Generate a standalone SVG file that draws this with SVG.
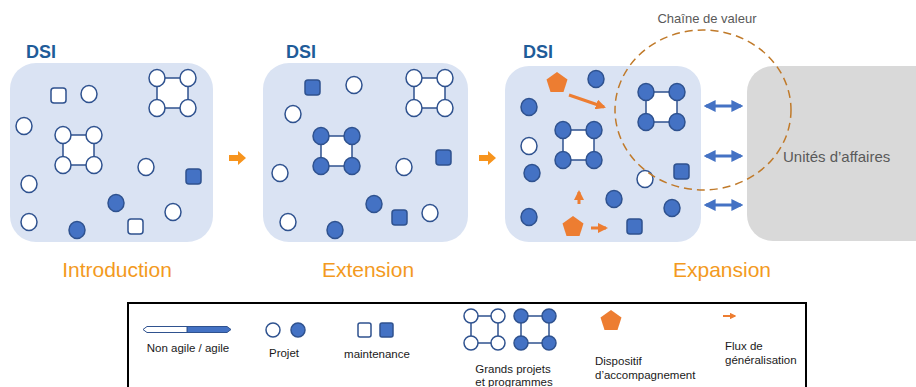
<svg xmlns="http://www.w3.org/2000/svg" xmlns:xlink="http://www.w3.org/1999/xlink" width="916" height="387" viewBox="0 0 916 387">
<style>
.panel{fill:#DAE3F3}
.ext{fill:#D9D9D9}
.o{fill:#FFFFFF;stroke:#2F528F;stroke-width:1.5}
.f{fill:#4472C4;stroke:#2F528F;stroke-width:1.5}
.ln{stroke:#2F528F;stroke-width:1.5}
.dsi{font-family:"Liberation Sans",Arial,sans-serif;font-weight:bold;font-size:18px;fill:#1F5C99}
.phase{font-family:"Liberation Sans",Arial,sans-serif;font-size:21px;fill:#F39A1E;text-anchor:middle}
.lg{font-family:"Liberation Sans",Arial,sans-serif;font-size:11.5px;fill:#1A1A1A}
.pent{fill:#ED7D31}
.step{fill:#F7941D}
.flux{stroke:#ED7D31;stroke-width:3;fill:none}
.dbl{stroke:#4472C4;stroke-width:3;fill:none}
</style>
<defs>
<marker id="ah-or" viewBox="0 0 10 10" refX="8" refY="5" markerWidth="3.4" markerHeight="3.4" orient="auto" markerUnits="strokeWidth">
<path d="M0,0 L10,5 L0,10 Z" fill="#ED7D31"/>
</marker>
<marker id="ah-bl" viewBox="0 0 10 10" refX="8" refY="5" markerWidth="4" markerHeight="4" orient="auto-start-reverse" markerUnits="strokeWidth">
<path d="M0,0 L10,5 L0,10 Z" fill="#4472C4"/>
</marker>
<g id="gpO">
<rect x="0" y="0" width="31" height="30" fill="#FFFFFF" class="ln"/>
<ellipse class="o" cx="0" cy="0" rx="8" ry="8.5"/>
<ellipse class="o" cx="31" cy="0" rx="8" ry="8.5"/>
<ellipse class="o" cx="0" cy="30" rx="8" ry="8.5"/>
<ellipse class="o" cx="31" cy="30" rx="8" ry="8.5"/>
</g>
<g id="gpF">
<rect x="0" y="0" width="31" height="30" fill="#FFFFFF" class="ln"/>
<ellipse class="f" cx="0" cy="0" rx="8" ry="8.5"/>
<ellipse class="f" cx="31" cy="0" rx="8" ry="8.5"/>
<ellipse class="f" cx="0" cy="30" rx="8" ry="8.5"/>
<ellipse class="f" cx="31" cy="30" rx="8" ry="8.5"/>
</g>
<path id="pentagon" d="M0,-11 L10.5,-3.4 L6.5,9 L-6.5,9 L-10.5,-3.4 Z"/>
</defs>

<!-- Panel 1 : Introduction -->
<g id="panel-introduction">
<rect class="panel" x="10" y="63" width="203" height="179" rx="26"/>
<text class="dsi" x="26" y="58">DSI</text>
<rect class="o" x="51" y="88" width="15" height="15" rx="3"/>
<ellipse class="o" cx="89" cy="94" rx="8" ry="8.5"/>
<ellipse class="o" cx="24" cy="126" rx="8" ry="8.5"/>
<use xlink:href="#gpO" x="157" y="78"/>
<use xlink:href="#gpO" x="63" y="135"/>
<ellipse class="o" cx="146" cy="167" rx="8" ry="8.5"/>
<rect class="f" x="186" y="169" width="15" height="15" rx="3"/>
<ellipse class="o" cx="29" cy="184" rx="8" ry="8.5"/>
<ellipse class="f" cx="116" cy="203" rx="8" ry="8.5"/>
<ellipse class="o" cx="173" cy="212" rx="8" ry="8.5"/>
<ellipse class="o" cx="29" cy="222" rx="8" ry="8.5"/>
<ellipse class="f" cx="77" cy="230" rx="8" ry="8.5"/>
<rect class="o" x="128" y="219" width="15" height="15" rx="3"/>
<text class="phase" x="117" y="277">Introduction</text>
</g>

<!-- Panel 2 : Extension -->
<g id="panel-extension">
<rect class="panel" x="263" y="63" width="205" height="179" rx="26"/>
<text class="dsi" x="286" y="58">DSI</text>
<rect class="f" x="305" y="80" width="15" height="15" rx="3"/>
<ellipse class="o" cx="354" cy="85" rx="8" ry="8.5"/>
<ellipse class="o" cx="293" cy="114" rx="8" ry="8.5"/>
<use xlink:href="#gpO" x="414" y="78"/>
<use xlink:href="#gpF" x="321" y="136"/>
<rect class="f" x="436" y="150" width="15" height="15" rx="3"/>
<ellipse class="o" cx="404" cy="167" rx="8" ry="8.5"/>
<ellipse class="o" cx="280" cy="173" rx="8" ry="8.5"/>
<ellipse class="f" cx="374" cy="204" rx="8" ry="8.5"/>
<rect class="f" x="392" y="210" width="15" height="15" rx="3"/>
<ellipse class="o" cx="430" cy="213" rx="8" ry="8.5"/>
<ellipse class="o" cx="288" cy="222" rx="8" ry="8.5"/>
<ellipse class="f" cx="335" cy="230" rx="8" ry="8.5"/>
<text class="phase" x="368" y="277">Extension</text>
</g>

<!-- Panel 3 : Expansion -->
<g id="panel-expansion">
<rect class="panel" x="505" y="66" width="196" height="176" rx="24"/>
<text class="dsi" x="523" y="58">DSI</text>
<use xlink:href="#pentagon" class="pent" x="557" y="83"/>
<ellipse class="f" cx="596" cy="79" rx="8" ry="8.5"/>
<ellipse class="f" cx="529" cy="107" rx="8" ry="8.5"/>
<use xlink:href="#gpF" x="646" y="92"/>
<use xlink:href="#gpF" x="563" y="130"/>
<ellipse class="o" cx="529" cy="146" rx="8" ry="8.5"/>
<ellipse class="f" cx="532" cy="173" rx="8" ry="8.5"/>
<ellipse class="o" cx="645" cy="179" rx="8" ry="8.5"/>
<rect class="f" x="674" y="164" width="15" height="15" rx="3"/>
<ellipse class="f" cx="614" cy="199" rx="8" ry="8.5"/>
<ellipse class="f" cx="672" cy="208" rx="8" ry="8.5"/>
<ellipse class="f" cx="529" cy="217" rx="8" ry="8.5"/>
<use xlink:href="#pentagon" class="pent" x="573" y="227"/>
<rect class="f" x="627" y="219" width="15" height="15" rx="3"/>
<text class="phase" x="722" y="277">Expansion</text>
</g>

<!-- Business units -->
<g id="unites-affaires">
<rect class="ext" x="747" y="66" width="200" height="175" rx="26"/>
<text x="783" y="162" font-family="'Liberation Sans',Arial,sans-serif" font-size="15" fill="#595959">Unités d’affaires</text>
</g>

<!-- Value chain -->
<g id="chaine-de-valeur">
<ellipse cx="703" cy="110" rx="88" ry="80" fill="none" stroke="#C07A2A" stroke-width="1.5" stroke-dasharray="8,5"/>
<text x="707" y="23" text-anchor="middle" font-family="'Liberation Sans',Arial,sans-serif" font-size="13" fill="#595959">Chaîne de valeur</text>
</g>

<!-- Connectors -->
<g id="connectors">
<path class="step" d="M229,155 H238 V151 L246,158 L238,165 V161 H229 Z"/>
<path class="step" d="M479,155 H488 V151 L496,158 L488,165 V161 H479 Z"/>
<line class="flux" x1="569" y1="95" x2="604" y2="107" marker-end="url(#ah-or)"/>
<line class="flux" x1="579" y1="204" x2="579" y2="192" marker-end="url(#ah-or)" stroke-width="2.5"/>
<line class="flux" x1="591" y1="228" x2="606" y2="228" marker-end="url(#ah-or)" stroke-width="2.5"/>
<line class="dbl" x1="706" y1="106" x2="741" y2="106" marker-start="url(#ah-bl)" marker-end="url(#ah-bl)"/>
<line class="dbl" x1="706" y1="156" x2="741" y2="156" marker-start="url(#ah-bl)" marker-end="url(#ah-bl)"/>
<line class="dbl" x1="706" y1="205" x2="741" y2="205" marker-start="url(#ah-bl)" marker-end="url(#ah-bl)"/>
</g>

<!-- Legend -->
<g id="legend">
<rect x="128" y="303" width="678" height="90" fill="#FFFFFF" stroke="#000000" stroke-width="2"/>
<path d="M187,326.5 H227 L231,329.5 L227,332.5 H187 Z" fill="#4472C4" stroke="#2F528F" stroke-width="1"/>
<path d="M187,326.5 H147 L143,329.5 L147,332.5 H187 Z" fill="#FFFFFF" stroke="#2F528F" stroke-width="1"/>
<text class="lg" x="188" y="352" text-anchor="middle">Non agile / agile</text>
<circle class="o" cx="273" cy="330" r="7"/>
<circle class="f" cx="298" cy="330" r="7"/>
<text class="lg" x="284" y="357" text-anchor="middle">Projet</text>
<rect class="o" x="358" y="323" width="13" height="14" rx="2"/>
<rect class="f" x="380" y="323" width="13" height="14" rx="2"/>
<text class="lg" x="377" y="358" text-anchor="middle">maintenance</text>
<rect x="471" y="316" width="27" height="27" fill="none" class="ln"/>
<circle class="o" cx="471" cy="316" r="7"/>
<circle class="o" cx="498" cy="316" r="7"/>
<circle class="o" cx="471" cy="343" r="7"/>
<circle class="o" cx="498" cy="343" r="7"/>
<rect x="521" y="316" width="28" height="27" fill="none" class="ln"/>
<circle class="f" cx="521" cy="316" r="7"/>
<circle class="f" cx="549" cy="316" r="7"/>
<circle class="f" cx="521" cy="343" r="7"/>
<circle class="f" cx="549" cy="343" r="7"/>
<text class="lg" x="513" y="373" text-anchor="middle">Grands projets</text>
<text class="lg" x="514" y="386" text-anchor="middle">et programmes</text>
<use xlink:href="#pentagon" class="pent" x="611" y="321"/>
<text class="lg" x="595" y="365">Dispositif</text>
<text class="lg" x="595" y="379">d’accompagnement</text>
<line x1="723" y1="316" x2="735" y2="316" stroke="#ED7D31" stroke-width="2" marker-end="url(#ah-or)"/>
<text class="lg" x="725" y="350">Flux de</text>
<text class="lg" x="725" y="364">généralisation</text>
</g>
</svg>
